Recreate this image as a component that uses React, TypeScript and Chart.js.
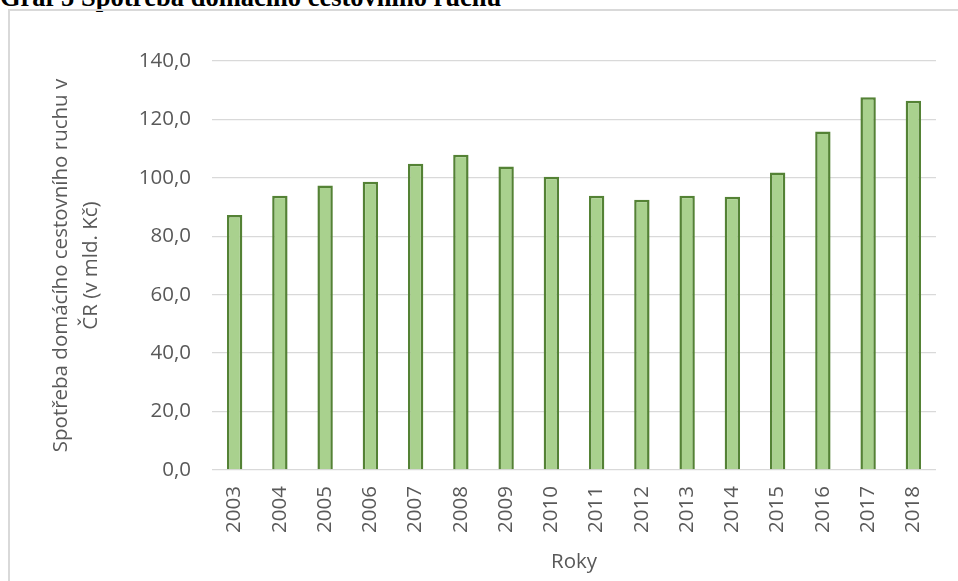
import React, { useEffect, useRef } from "react";
import { Chart, registerables } from "chart.js";

Chart.register(...registerables);

const years = ["2003","2004","2005","2006","2007","2008","2009","2010","2011","2012","2013","2014","2015","2016","2017","2018"];
const spending = [87.3, 93.9, 97.4, 98.7, 104.8, 107.9, 103.9, 100.4, 93.9, 92.5, 93.9, 93.5, 101.8, 115.9, 127.6, 126.4];
const yTitle = ["Spotřeba domácího cestovního ruchu v", "ČR (v mld. Kč)"];
const xTitle = "Roky";
const heading = "Graf 5 Spotřeba domácího cestovního ruchu";

const FONT = "'Open Sans', 'Noto Sans', sans-serif";
const GRAY = "#595959";

export default function App() {
  const ref = useRef<HTMLCanvasElement | null>(null);

  useEffect(() => {
    const prevMargin = document.body.style.margin;
    document.body.style.margin = "0";
    const ctx = ref.current!;
    const chart = new Chart(ctx, {
      type: "bar",
      data: {
        labels: years,
        datasets: [
          {
            data: spending,
            backgroundColor: "#a9d18e",
            borderColor: "#548235",
            borderWidth: 2.5,
            barPercentage: 0.34,
            categoryPercentage: 1,
          },
        ],
      },
      options: {
        animation: false,
        responsive: false,
        maintainAspectRatio: false,
        layout: { padding: { left: 46, right: 22, top: 61, bottom: 0 } },
        plugins: { legend: { display: false }, tooltip: { enabled: false }, title: { display: false } },
        scales: {
          x: {
            grid: { display: false, drawTicks: false },
            border: { display: false },
            ticks: {
              color: GRAY,
              font: { family: FONT, size: 20.5 },
              minRotation: 90,
              maxRotation: 90,
              padding: 16,
              autoSkip: false,
            },
            title: {
              display: true,
              text: xTitle,
              color: GRAY,
              font: { family: FONT, size: 20.5, lineHeight: 1.2 },
              padding: { top: 0, bottom: 7 },
            },
            afterFit: (s: any) => {
              s.height = 111;
            },
          },
          y: {
            min: 0,
            max: 140,
            grid: { color: "#d9d9d9", lineWidth: 1.3, drawTicks: false },
            border: { display: false },
            ticks: {
              stepSize: 20,
              color: GRAY,
              font: { family: FONT, size: 20.5 },
              padding: 21,
              callback: (v: any) => Number(v).toFixed(1).replace(".", ","),
            },
            title: {
              display: true,
              text: yTitle,
              color: GRAY,
              font: { family: FONT, size: 20.5, lineHeight: 1.46 },
              padding: { top: 0, bottom: 0 },
            },
            afterFit: (s: any) => {
              s.width = 166;
            },
          },
        },
      },
    });
    return () => {
      chart.destroy();
      document.body.style.margin = prevMargin;
    };
  }, []);

  return (
    <div style={{ position: "relative", width: 958, height: 581, overflow: "hidden", background: "#fff" }}>
      <div
        style={{
          position: "absolute",
          left: 0,
          top: -16,
          fontFamily: "'Liberation Serif', 'Times New Roman', serif",
          fontWeight: "bold",
          fontSize: 26.5,
          lineHeight: "26.5px",
          whiteSpace: "nowrap",
          color: "#000",
        }}
      >
        {heading}
      </div>
      <div
        style={{
          position: "absolute",
          left: 8,
          top: 9,
          width: 1100,
          height: 800,
          border: "2px solid #d9d9d9",
          boxSizing: "border-box",
        }}
      />
      <canvas ref={ref} width={958} height={581} style={{ position: "absolute", left: 0, top: 0, width: 958, height: 581 }} />
    </div>
  );
}
